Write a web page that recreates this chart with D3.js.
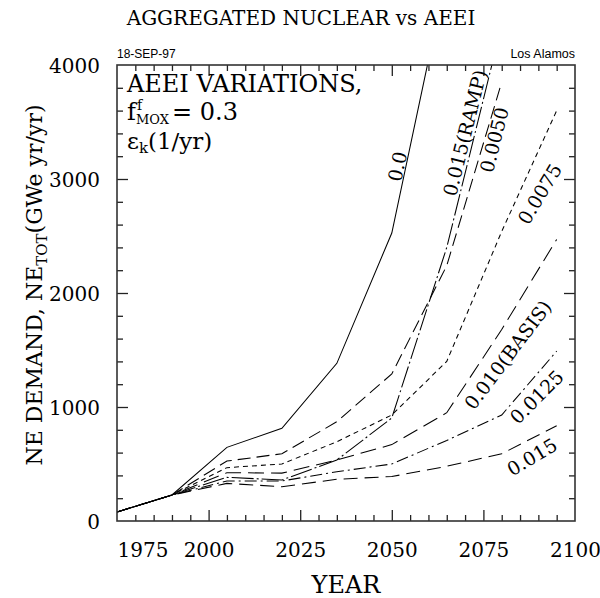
<!DOCTYPE html>
<html><head><meta charset="utf-8">
<script src="https://cdn.jsdelivr.net/npm/d3@7"></script>
<style>body{margin:0;background:#fff}</style>
</head><body>
<svg id="c" width="600" height="598"></svg>
<script>
// ---- data ----
const years = [1975,1990,2005,2020,2035,2050,2065,2080,2095];
const aeei0000 = [79,228,646,813,1383,2526,4800];
const aeeiRamp = [79,228,383,360,535,904,2400,4350];
const aeei0050 = [79,228,526,590,871,1290,2240,3850];
const aeei0075 = [79,228,468,500,695,930,1400,2540,3600];
const aeei0100 = [79,228,424,420,535,670,950,1680,2470];
const aeei0125 = [79,228,351,351,432,500,707,930,1490];
const aeei0150 = [79,228,330,301,366,390,480,590,835];
const seriesNames = ["0.0","0.015(RAMP)","0.0050","0.0075","0.010(BASIS)","0.0125","0.015"];
const xTickLabels = [1975,2000,2025,2050,2075,2100];
const yTickLabels = [0,1000,2000,3000,4000];

// ---- layout ----
const svg = d3.select("#c");
const L=117, R=575, T=65, B=521;
const x = d3.scaleLinear().domain([1975,2100]).range([L,R]);
const y = d3.scaleLinear().domain([0,4000]).range([B,T]);
const serif = "'DejaVu Serif', serif";

const allSeries = [aeei0000,aeeiRamp,aeei0050,aeei0075,aeei0100,aeei0125,aeei0150];
const dashes = [null,"22,3,2,3","13,6","5,4","16,7","12,4,2,4","14,7"];

svg.append("clipPath").attr("id","clip").append("rect")
  .attr("x",L).attr("y",T).attr("width",R-L).attr("height",B-T);

const line = d3.line().x(d=>x(d[0])).y(d=>y(d[1]));
const g = svg.append("g").attr("clip-path","url(#clip)");
allSeries.forEach((s,i)=>{
  g.append("path").datum(s.map((v,j)=>[years[j],v]))
   .attr("d",line).attr("fill","none").attr("stroke","#000")
   .attr("stroke-width",1.05)
   .attr("stroke-dasharray",dashes[i]);
});

// ---- axes ----
const minorX = d3.range(1980,2100,5).filter(v=>!xTickLabels.includes(v));
const minorY = d3.range(200,4000,200).filter(v=>!yTickLabels.includes(v));
function styleAxis(sel){
  sel.select(".domain").remove();
  sel.selectAll("line").attr("stroke","#222").attr("stroke-width",1.3);
}
// bottom
svg.append("g").attr("transform",`translate(0,${B})`)
  .call(d3.axisBottom(x).tickValues(minorX).tickSize(-6).tickFormat(""))
  .call(styleAxis);
const xb = svg.append("g").attr("transform",`translate(0,${B})`)
  .call(d3.axisBottom(x).tickValues(xTickLabels).tickSize(-11).tickPadding(22).tickFormat(d3.format("d")))
  .call(styleAxis);
xb.selectAll("text").attr("font-family",serif).attr("font-size",20).attr("fill","#000");
xb.selectAll(".tick").filter(d=>d===1975).select("text").attr("text-anchor","start");
xb.selectAll(".tick").filter(d=>d===1975||d===2100).select("line").remove();
// top
svg.append("g").attr("transform",`translate(0,${T})`)
  .call(d3.axisTop(x).tickValues(minorX).tickSize(-6).tickFormat("")).call(styleAxis);
svg.append("g").attr("transform",`translate(0,${T})`)
  .call(d3.axisTop(x).tickValues(xTickLabels.slice(1,-1)).tickSize(-11).tickFormat("")).call(styleAxis);
// left
svg.append("g").attr("transform",`translate(${L},0)`)
  .call(d3.axisLeft(y).tickValues(minorY).tickSize(-6).tickFormat("")).call(styleAxis);
const yl = svg.append("g").attr("transform",`translate(${L},0)`)
  .call(d3.axisLeft(y).tickValues(yTickLabels).tickSize(-11).tickPadding(17).tickFormat(d3.format("d")))
  .call(styleAxis);
yl.selectAll("text").attr("font-family",serif).attr("font-size",20).attr("fill","#000").attr("dy","0.36em");
yl.selectAll(".tick").filter(d=>d===0||d===4000).select("line").remove();
// right
svg.append("g").attr("transform",`translate(${R},0)`)
  .call(d3.axisRight(y).tickValues(minorY).tickSize(-6).tickFormat("")).call(styleAxis);
svg.append("g").attr("transform",`translate(${R},0)`)
  .call(d3.axisRight(y).tickValues(yTickLabels.slice(1,-1)).tickSize(-11).tickFormat("")).call(styleAxis);
// frame
svg.append("rect").attr("x",L).attr("y",T).attr("width",R-L).attr("height",B-T)
  .attr("fill","none").attr("stroke","#333").attr("stroke-width",1.6);

// ---- titles ----
svg.append("text").attr("x",301).attr("y",25).attr("text-anchor","middle")
  .attr("font-family",serif).attr("font-size",20).text("AGGREGATED NUCLEAR vs AEEI");
svg.append("text").attr("x",346).attr("y",593).attr("text-anchor","middle")
  .attr("font-family",serif).attr("font-size",24).text("YEAR");
const yt = svg.append("text").attr("transform","translate(42,285) rotate(-90)")
  .attr("text-anchor","middle").attr("font-family",serif).attr("font-size",22);
yt.append("tspan").text("NE DEMAND, NE");
yt.append("tspan").attr("font-size",15).attr("dy",5).text("TOT");
yt.append("tspan").attr("dy",-5).text("(GWe yr/yr)");

svg.append("text").attr("x",117).attr("y",58).attr("font-family","'Liberation Sans', sans-serif")
  .attr("font-size",12).text("18-SEP-97");
svg.append("text").attr("x",575).attr("y",58).attr("text-anchor","end")
  .attr("font-family","'Liberation Sans', sans-serif").attr("font-size",12.5).text("Los Alamos");

// top-left annotation
svg.append("text").attr("x",127).attr("y",92).attr("font-family",serif).attr("font-size",24)
  .text("AEEI VARIATIONS,");
svg.append("text").attr("x",127).attr("y",120).attr("font-family",serif).attr("font-size",24).text("f");
svg.append("text").attr("x",137).attr("y",110).attr("font-family",serif).attr("font-size",14).text("f");
svg.append("text").attr("x",136).attr("y",124).attr("font-family",serif).attr("font-size",13).text("MOX");
svg.append("text").attr("x",172).attr("y",120).attr("font-family",serif).attr("font-size",24).text("= 0.3");
const e = svg.append("text").attr("x",127).attr("y",149).attr("font-family",serif).attr("font-size",23);
e.append("tspan").text("ε");
e.append("tspan").attr("font-size",15).attr("dy",4).text("k");
e.append("tspan").attr("dy",-4).text("(1/yr)");

// ---- curve labels ----
const labelPlace = [
  {yr:2051.6, v:3110, a:-78},
  {yr:2070.0, v:3404, a:-76},
  {yr:2078.0, v:3342, a:-76},
  {yr:2090.4, v:2868, a:-59},
  {yr:2081.7, v:1456, a:-53},
  {yr:2089.6, v:1088, a:-45},
  {yr:2088.3, v:561, a:-31}
];
seriesNames.forEach((n,i)=>{
  const p = labelPlace[i];
  svg.append("text").attr("transform",`translate(${x(p.yr)},${y(p.v)}) rotate(${p.a})`)
    .attr("text-anchor","middle").attr("dy","0.35em")
    .attr("font-family",serif).attr("font-size",19).text(n);
});
</script>
</body></html>
